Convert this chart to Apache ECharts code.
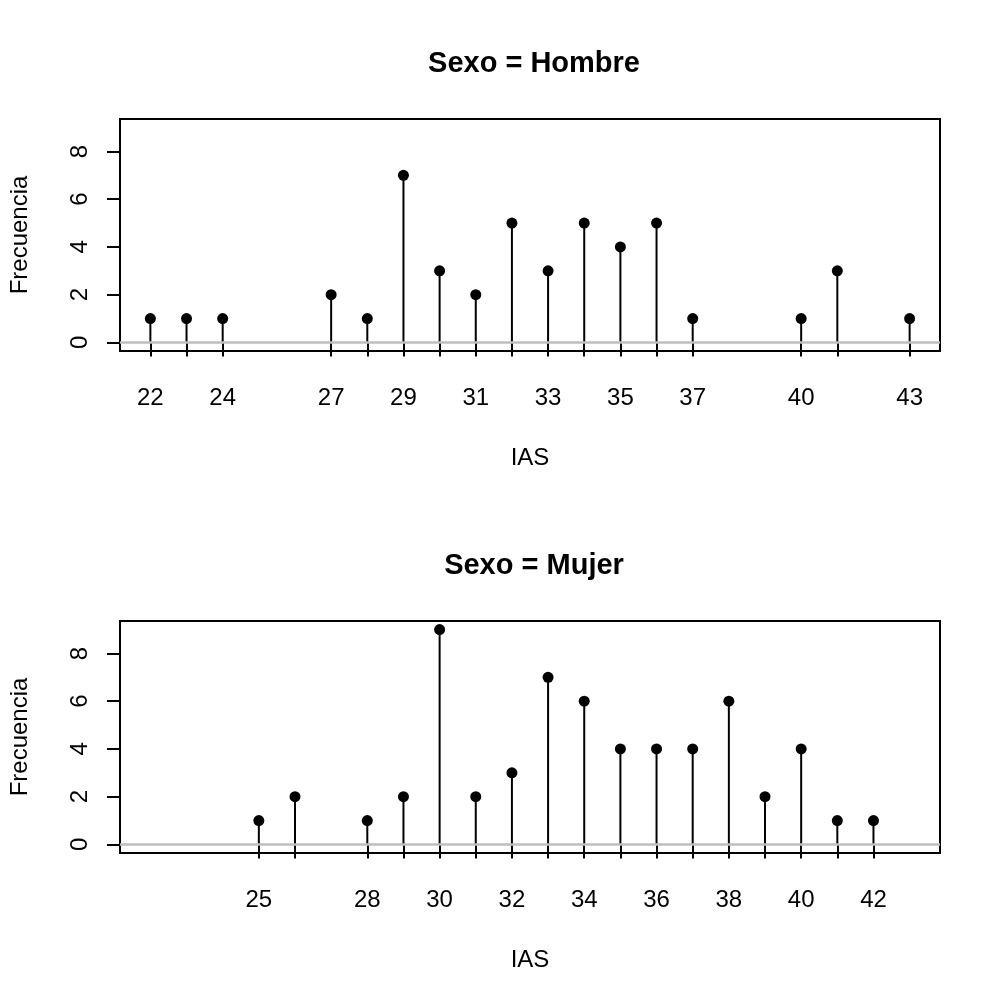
<!DOCTYPE html>
<html>
<head>
<meta charset="utf-8">
<script src="https://cdn.jsdelivr.net/npm/echarts@6/dist/echarts.min.js"></script>
<style>html,body{margin:0;padding:0;background:#fff}#c{width:1000px;height:1000px}</style>
</head>
<body>
<div id="c"></div>
<script>
var hombreIAS = [22,23,24,27,28,29,30,31,32,33,34,35,36,37,40,41,43];
var hombreFreq = [1,1,1,2,1,7,3,2,5,3,5,4,5,1,1,3,1];
var hombreLabels = [22,24,27,29,31,33,35,37,40,43];
var mujerIAS = [25,26,28,29,30,31,32,33,34,35,36,37,38,39,40,41,42];
var mujerFreq = [1,2,1,2,9,2,3,7,6,4,4,4,6,2,4,1,1];
var mujerLabels = [25,28,30,32,34,36,38,40,42];
var yTicks = [0,2,4,6,8];
var titles = ['Sexo = Hombre', 'Sexo = Mujer'];
var xName = 'IAS', yName = 'Frecuencia';

var FONT = '"Liberation Sans", Arial, sans-serif';
var panels = [
  {ias: hombreIAS, freq: hombreFreq, labels: hombreLabels},
  {ias: mujerIAS, freq: mujerFreq, labels: mujerLabels}
];
var gridTops = [119, 621];

var option = {
  animation: false,
  backgroundColor: '#fff',
  title: panels.map(function (p, i) {
    return {text: titles[i], left: 529, top: gridTops[i] - 75, textAlign: 'center',
      textStyle: {fontFamily: FONT, fontSize: 29, fontWeight: 'bold', color: '#000'}};
  }),
  grid: gridTops.map(function (t) {
    return {left: 119, right: 60, top: t, height: 232, show: true,
      borderColor: '#000', borderWidth: 2, backgroundColor: 'transparent'};
  }),
  xAxis: panels.map(function (p, i) {
    return {type: 'value', gridIndex: i, min: 21.16, max: 43.84,
      name: xName, nameLocation: 'middle', nameGap: 95,
      nameTextStyle: {fontFamily: FONT, fontSize: 24, color: '#000'},
      axisLine: {show: false}, splitLine: {show: false},
      axisTick: {show: true, length: 14, customValues: p.ias, lineStyle: {color: '#000', width: 2}},
      axisLabel: {customValues: p.labels, fontFamily: FONT, fontSize: 24, color: '#000', margin: 35}};
  }),
  yAxis: panels.map(function (p, i) {
    return {type: 'value', gridIndex: i, min: -0.36, max: 9.36,
      name: yName, nameLocation: 'middle', nameGap: 88, nameRotate: 90,
      nameTextStyle: {fontFamily: FONT, fontSize: 24, color: '#000'},
      axisLine: {show: false}, splitLine: {show: false},
      axisTick: {show: true, length: 13, customValues: yTicks, lineStyle: {color: '#000', width: 2}},
      axisLabel: {customValues: yTicks, rotate: 90, fontFamily: FONT, fontSize: 24, color: '#000', margin: 28}};
  }),
  series: []
};

panels.forEach(function (p, i) {
  var pts = p.ias.map(function (x, k) { return [x, p.freq[k]]; });
  option.series.push({
    type: 'bar', xAxisIndex: i, yAxisIndex: i, data: pts, barWidth: 2,
    itemStyle: {color: '#000', opacity: 1}, silent: true,
    markLine: {silent: true, symbol: ['none', 'none'], label: {show: false},
      lineStyle: {color: '#BEBEBE', width: 2.5, type: 'solid', opacity: 1}, data: [{yAxis: 0}]}
  });
  option.series.push({
    type: 'scatter', xAxisIndex: i, yAxisIndex: i, data: pts, symbol: 'circle', symbolSize: 11,
    itemStyle: {color: '#000', opacity: 1}, silent: true
  });
});

var chart = echarts.init(document.getElementById('c'), null, {renderer: 'canvas'});
chart.setOption(option);
</script>
</body>
</html>
